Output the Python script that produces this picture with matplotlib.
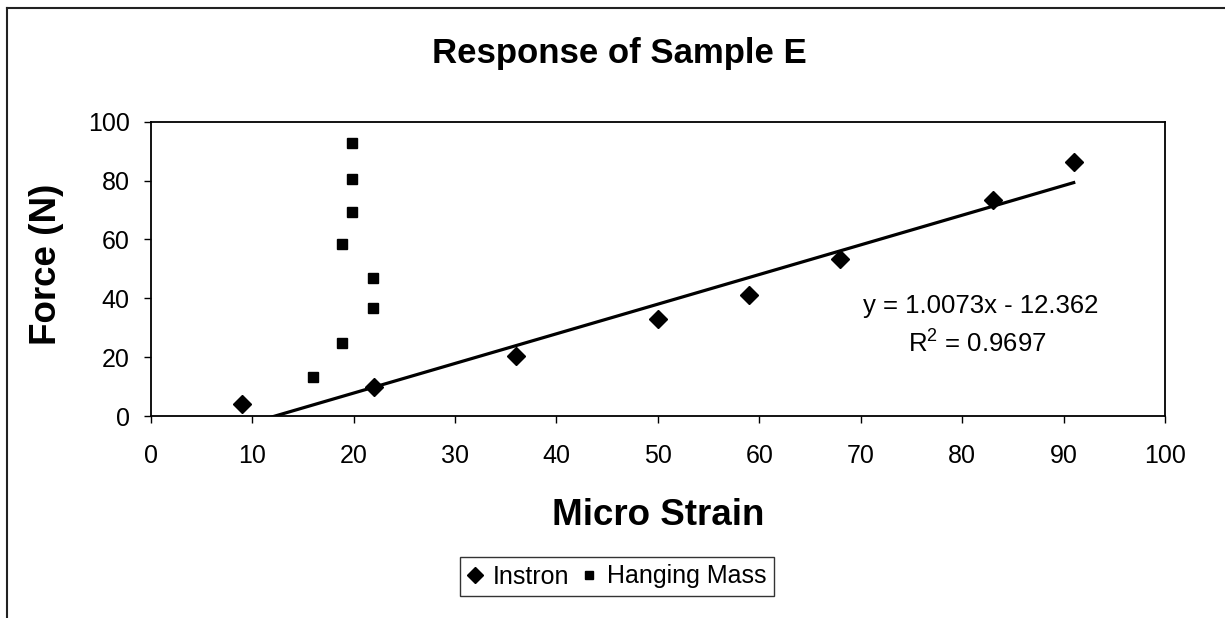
import matplotlib
matplotlib.use("Agg")
import matplotlib.pyplot as plt
import numpy as np
from matplotlib.lines import Line2D

plt.rcParams['font.family'] = ['Liberation Sans', 'DejaVu Sans']
plt.rcParams['mathtext.fontset'] = 'custom'
plt.rcParams['mathtext.rm'] = 'Liberation Sans'

# Data
instron_x = [9, 22, 36, 50, 59, 68, 83, 91]
instron_y = [4.1, 10.0, 20.5, 33.0, 41.2, 53.3, 73.5, 86.2]
hanging_x = [16.0, 18.9, 21.9, 21.9, 18.9, 19.8, 19.8, 19.8]
hanging_y = [13.4, 24.7, 36.8, 47.0, 58.4, 69.2, 80.5, 92.7]
slope = 1.0073
intercept = -12.362
r2 = 0.9697
x_ticks = list(range(0, 101, 10))
y_ticks = list(range(0, 101, 20))

W, H = 1225, 618
fig = plt.figure(figsize=(W / 100, H / 100), dpi=100)
fig.patch.set_facecolor('white')

def fx(px):
    return px / W

def fy(py):
    return 1 - py / H

ax = fig.add_axes([fx(150.7), fy(416), fx(1165) - fx(150.7), fy(121.7) - fy(416)])
ax.set_xlim(0, 100)
ax.set_ylim(0, 100)
ax.set_xticks(x_ticks)
ax.set_yticks(y_ticks)
ax.tick_params(direction='out', length=5, width=1, colors='black', labelsize=18)
ax.tick_params(axis='x', pad=15)
ax.tick_params(axis='y', pad=10)
for s in ax.spines.values():
    s.set_color('black')
    s.set_linewidth(1.3)

# Trendline
tx = np.array([min(instron_x), max(instron_x)])
ty = slope * tx + intercept
ax.plot(tx, ty, color='black', linewidth=2.3, zorder=2, clip_on=True)

l1, = ax.plot(instron_x, instron_y, linestyle='none', marker='D', markersize=9,
              color='black', label='Instron', zorder=3)
l2, = ax.plot(hanging_x, hanging_y, linestyle='none', marker='s', markersize=7.5,
              color='black', label='Hanging Mass', zorder=3)

# Equation text
fig.text(fx(981), fy(313), "y = %.4fx - %.3f" % (slope, -intercept), ha='center',
         va='baseline', fontsize=18.5)
fig.text(fx(977), fy(352), "R$^{\\mathregular{2}}$ = %.4f" % r2, ha='center',
         va='baseline', fontsize=18.5)

# Titles
fig.text(fx(619.5), fy(63), "Response of Sample E", ha='center', va='baseline',
         fontsize=25, fontweight='bold')
fig.text(fx(658.5), fy(525), "Micro Strain", ha='center', va='baseline',
         fontsize=26.5, fontweight='bold')
fig.text(fx(47), fy(264), "Force (N)", ha='center', va='center', rotation=90,
         fontsize=26.5, fontweight='bold')

# Legend
leg = fig.legend(handles=[l1, l2], loc='center',
                 bbox_to_anchor=(fx((457 + 777) / 2), fy((554 + 599) / 2)),
                 ncol=2, fontsize=18, frameon=True, fancybox=False,
                 handlelength=0.6, handletextpad=0.4, columnspacing=0.5,
                 borderpad=0.3, borderaxespad=0, markerscale=0.85)
leg.get_frame().set_edgecolor('black')
leg.get_frame().set_linewidth(1.0)

# Outer chart-area frame (cut at right and bottom)
fig.add_artist(Line2D([fx(7), fx(7)], [fy(8), 0], transform=fig.transFigure,
                      color='#222222', linewidth=1.5))
fig.add_artist(Line2D([fx(7), 1], [fy(8), fy(8)], transform=fig.transFigure,
                      color='#222222', linewidth=1.5))

fig.savefig("out.png", dpi=100, facecolor='white')
